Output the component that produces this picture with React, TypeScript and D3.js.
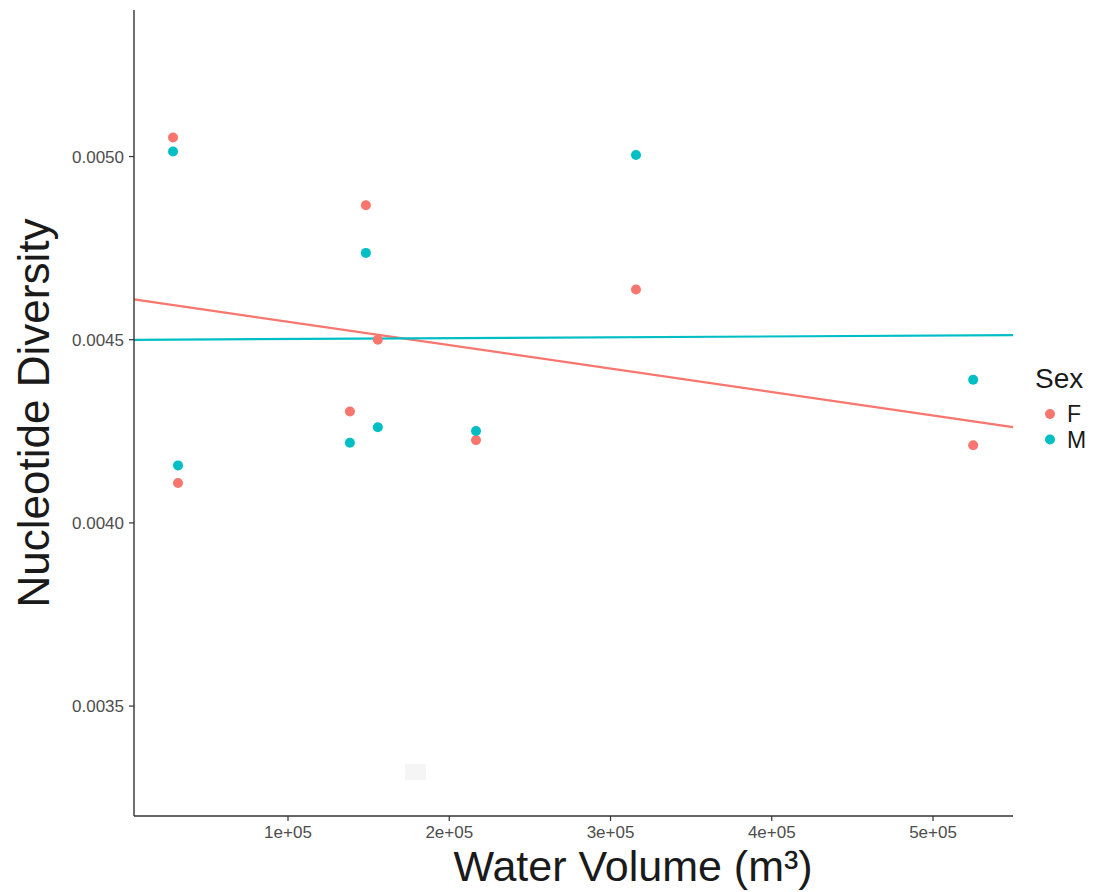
import React from "react";
import * as d3 from "d3";

const volumeF = [28700, 31800, 138400, 148300, 155700, 216600, 315800, 524900];
const diversityF = [0.005052, 0.004109, 0.004304, 0.004867, 0.0045, 0.004226, 0.004637, 0.004212];
const volumeM = [28700, 31800, 138400, 148300, 155700, 216600, 315800, 524900];
const diversityM = [0.005014, 0.004157, 0.004219, 0.004737, 0.004261, 0.004251, 0.005004, 0.004391];
const xTicks = [100000, 200000, 300000, 400000, 500000];
const xTickLabels = ["1e+05", "2e+05", "3e+05", "4e+05", "5e+05"];
const yTicks = [0.0035, 0.004, 0.0045, 0.005];
const yTickLabels = ["0.0035", "0.0040", "0.0045", "0.0050"];
const sexes = ["F", "M"];
const colors = ["#F8766D", "#00BFC4"];
const artifactBox = [[172600, 185600], [0.003342, 0.003298]];

function fit(xs: number[], ys: number[]) {
  const mx = d3.mean(xs)!;
  const my = d3.mean(ys)!;
  let sxy = 0, sxx = 0;
  xs.forEach((x, i) => { sxy += (x - mx) * (ys[i] - my); sxx += (x - mx) ** 2; });
  const b = sxy / sxx;
  return (x: number) => my + b * (x - mx);
}

export default function App() {
  const W = 1094, H = 892;
  const left = 134, right = 1013, top = 10, bottom = 816;
  const x = d3.scaleLinear().domain([4500, 549600]).range([left, right]);
  const y = d3.scaleLinear().domain([0.0032, 0.00540]).range([bottom, top]);
  const series = [
    { xs: volumeF, ys: diversityF },
    { xs: volumeM, ys: diversityM },
  ];
  const font = "'Liberation Sans', Arial, sans-serif";
  const line = d3.line<[number, number]>().x(d => x(d[0])).y(d => y(d[1]));
  return (
    <svg width={W} height={H} style={{ position: "absolute", left: 0, top: 0, background: "#fff" }} fontFamily={font}>
      <rect x={0} y={0} width={W} height={H} fill="#fff" />
      <rect x={x(artifactBox[0][0])} y={y(artifactBox[1][0])}
        width={x(artifactBox[0][1]) - x(artifactBox[0][0])}
        height={y(artifactBox[1][1]) - y(artifactBox[1][0])} fill="#F5F5F5" />
      {series.map((s, si) => {
        const f = fit(s.xs, s.ys);
        const d0 = x.domain();
        return <path key={"l" + si} d={line([[d0[0], f(d0[0])], [d0[1], f(d0[1])]])!} stroke={colors[si]} strokeWidth={2.2} fill="none" />;
      })}
      {series.map((s, si) => s.xs.map((v, i) => (
        <circle key={`p${si}-${i}`} cx={x(v)} cy={y(s.ys[i])} r={5} fill={colors[si]} />
      )))}
      <line x1={left} x2={left} y1={top} y2={bottom} stroke="#333" strokeWidth={1.4} />
      <line x1={left} x2={right} y1={bottom} y2={bottom} stroke="#333" strokeWidth={1.4} />
      {xTicks.map((t, i) => (
        <g key={"xt" + i}>
          <line x1={x(t)} x2={x(t)} y1={bottom} y2={bottom + 5} stroke="#333" strokeWidth={1.2} />
          <text x={x(t)} y={838} textAnchor="middle" fontSize={17} fill="#4D4D4D">{xTickLabels[i]}</text>
        </g>
      ))}
      {yTicks.map((t, i) => (
        <g key={"yt" + i}>
          <line x1={left - 5} x2={left} y1={y(t)} y2={y(t)} stroke="#333" strokeWidth={1.2} />
          <text x={124} y={y(t) + 6} textAnchor="end" fontSize={17} fill="#4D4D4D">{yTickLabels[i]}</text>
        </g>
      ))}
      <text x={633} y={881} textAnchor="middle" fontSize={43} fill="#1a1a1a">Water Volume (m³)</text>
      <text transform={`translate(49,${(top + bottom) / 2}) rotate(-90)`} textAnchor="middle" fontSize={44} fill="#1a1a1a">Nucleotide Diversity</text>
      <text x={1035} y={388} fontSize={28} fill="#1a1a1a">Sex</text>
      {sexes.map((s, i) => (
        <g key={"lg" + i}>
          <circle cx={1050} cy={414 + i * 25.5} r={5} fill={colors[i]} />
          <text x={1067} y={422 + i * 25.5} fontSize={23} fill="#1a1a1a">{s}</text>
        </g>
      ))}
    </svg>
  );
}
